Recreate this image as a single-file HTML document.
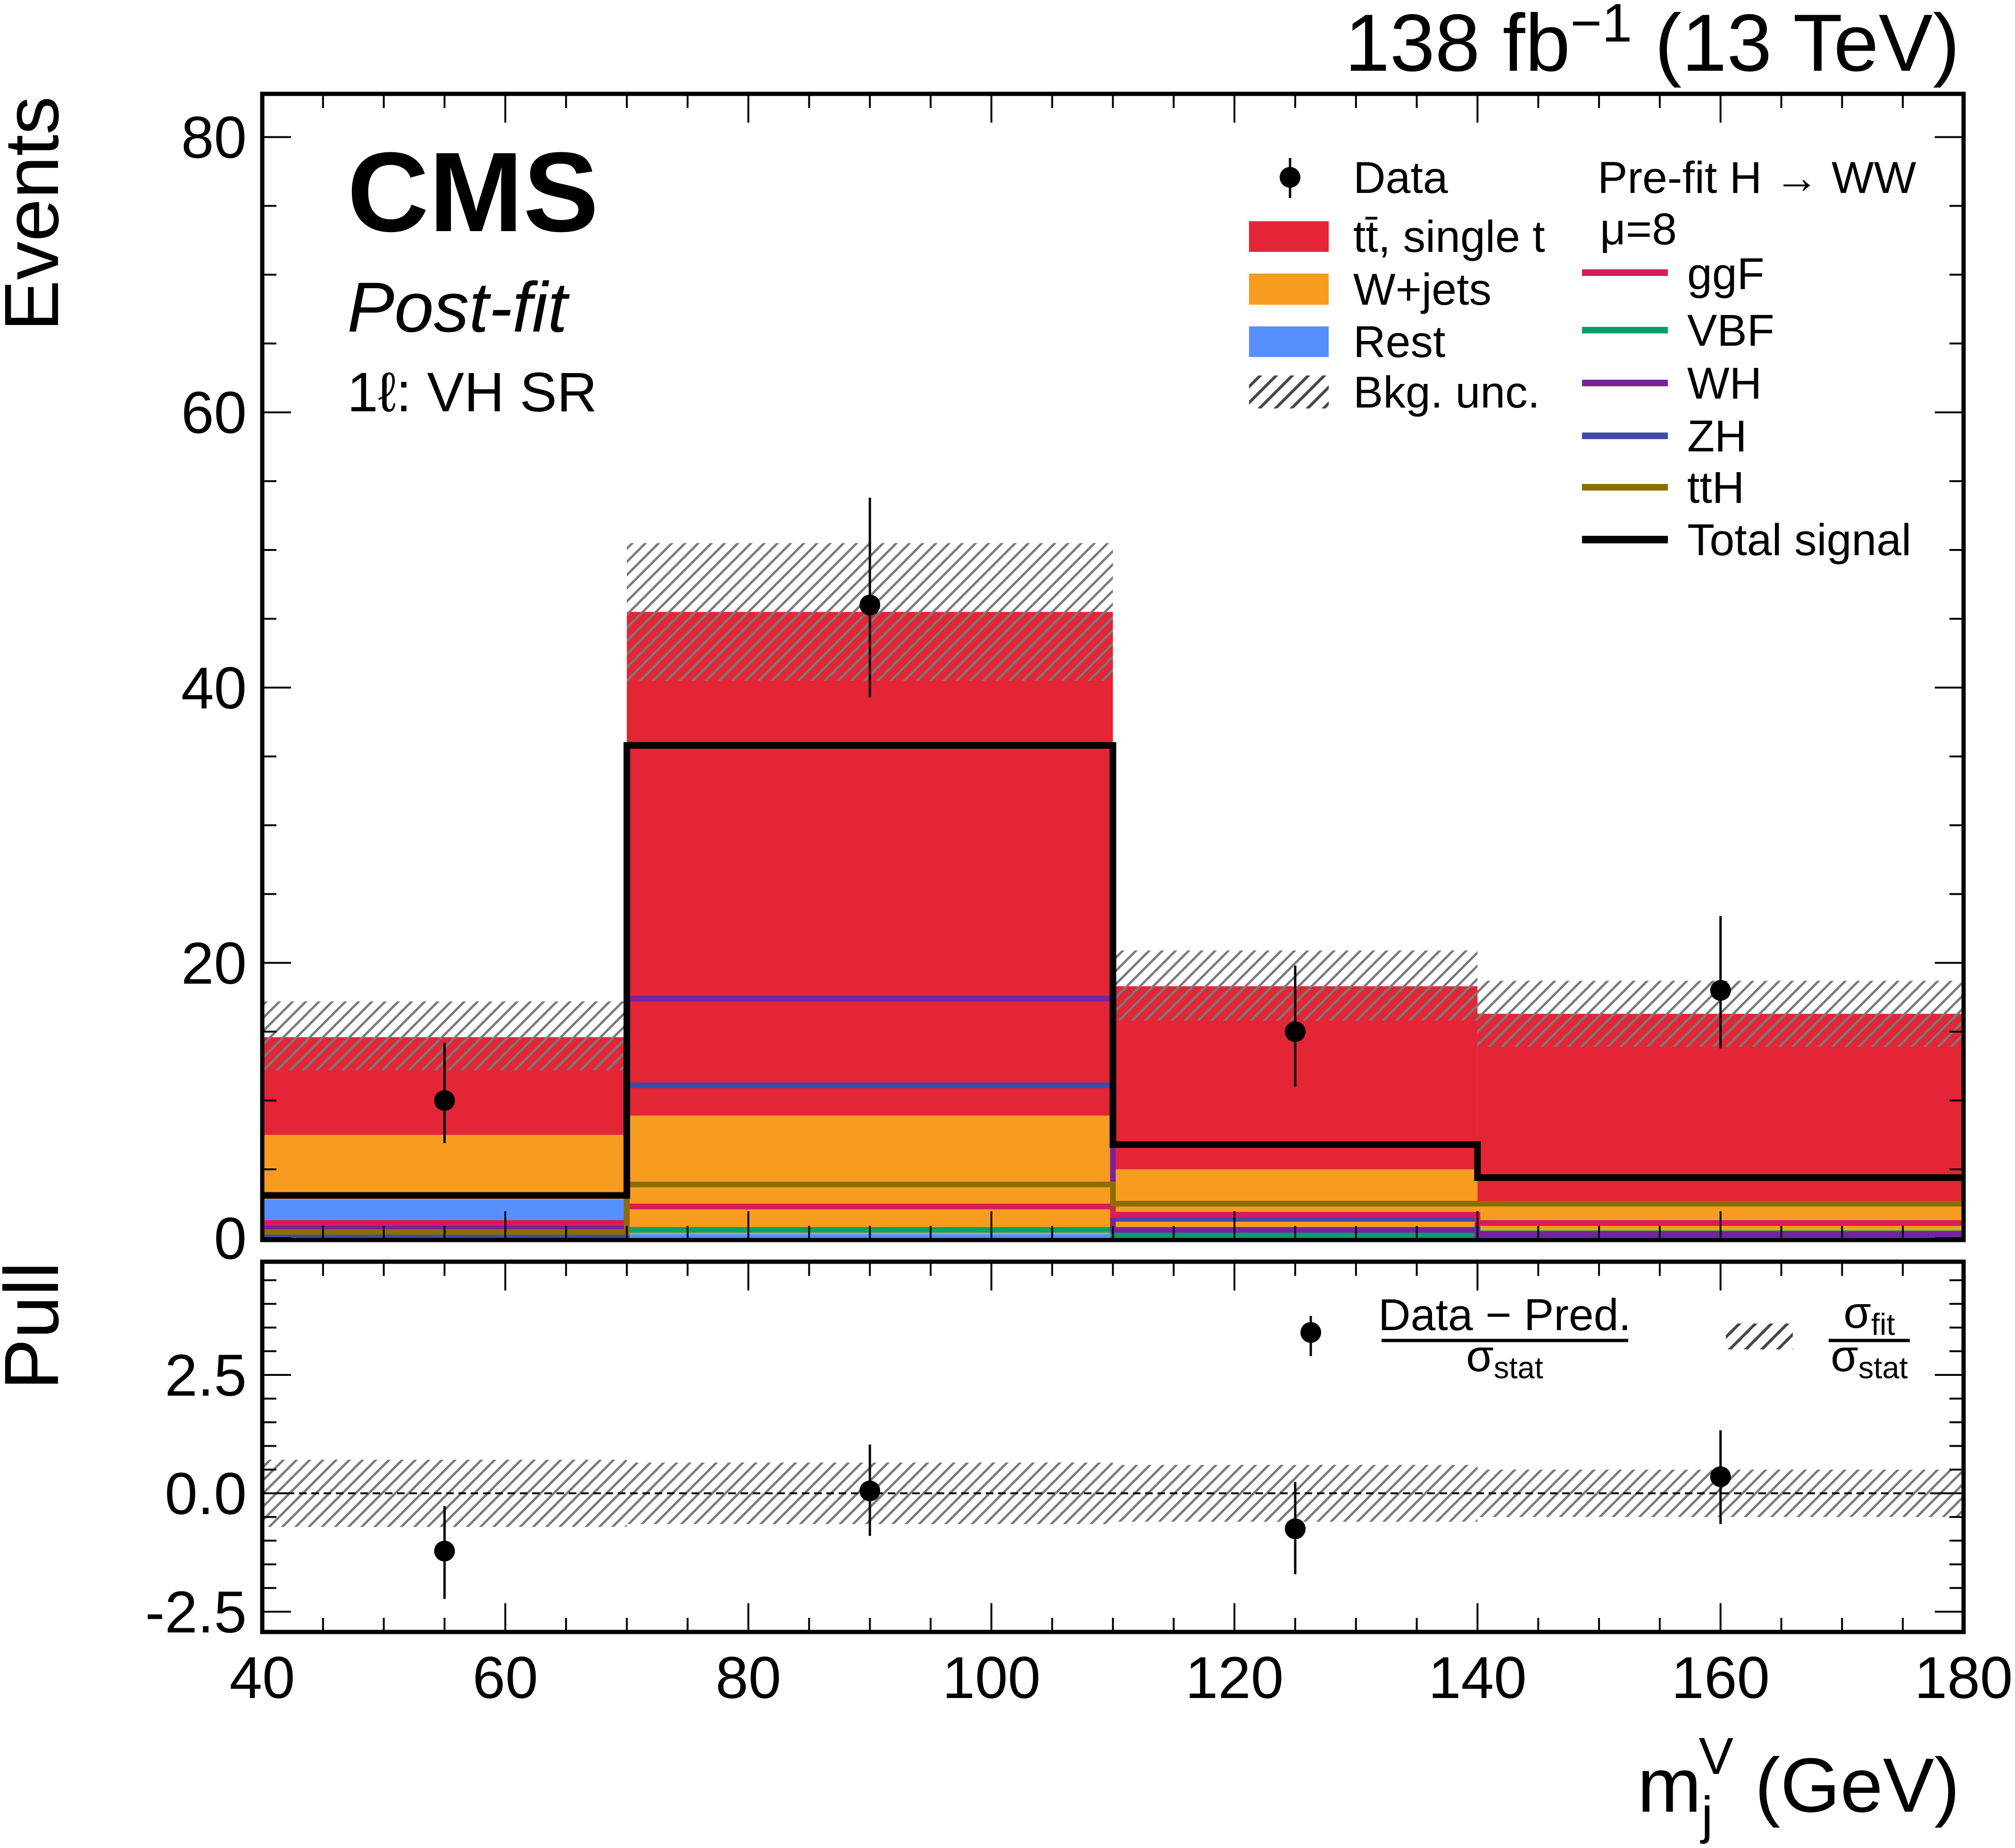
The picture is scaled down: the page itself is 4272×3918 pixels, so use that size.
<!DOCTYPE html>
<html><head><meta charset="utf-8"><style>
html,body{margin:0;padding:0;background:#fff;}
svg{display:block;font-family:"Liberation Sans",sans-serif;}
</style></head><body>
<svg id="chart" xmlns="http://www.w3.org/2000/svg" width="4272" height="3918" viewBox="0 0 4272 3918">
<defs>
<pattern id="hatch" patternUnits="userSpaceOnUse" width="28" height="28">
<path d="M-7,7 L7,-7 M0,28 L28,0 M21,35 L35,21" stroke="#7a7a7a" stroke-width="5"/>
</pattern>
<pattern id="hatchLeg" patternUnits="userSpaceOnUse" width="34" height="34">
<path d="M-8,8 L8,-8 M0,34 L34,0 M26,42 L42,26" stroke="#444" stroke-width="6"/>
</pattern>
</defs>
<g id="main-marks"></g>
<g id="pull-marks"></g>
<g id="axes"></g>

<text x="4155" y="150" font-size="172" text-anchor="end">138 fb<tspan dy="-62" font-size="115">−1</tspan><tspan dy="62"> (13 TeV)</tspan></text>
<text x="736" y="490" font-size="240" font-weight="bold">CMS</text>
<text x="736" y="703" font-size="150" font-style="italic">Post-fit</text>
<text x="736" y="872" font-size="118">1ℓ: VH SR</text>
<text transform="translate(123,204) rotate(-90)" font-size="163" text-anchor="end">Events</text>
<text transform="translate(123,2675) rotate(-90)" font-size="163" text-anchor="end">Pull</text>
<text x="4155" y="3841" font-size="163" text-anchor="end">m<tspan dy="45" font-size="110">j</tspan><tspan dy="-125" dx="-30" font-size="110">V</tspan><tspan dy="80"> (GeV)</tspan></text>

<g font-size="95">
<g>
<line x1="2735" y1="335" x2="2735" y2="420" stroke="#000" stroke-width="5"/><circle cx="2735" cy="376" r="22"/>
<text x="2869" y="409">Data</text></g>
<g><rect x="2648" y="469" width="169" height="65" fill="#e42536"/><text x="2869" y="534">tt̄, single t</text></g>
<g><rect x="2648" y="580" width="169" height="66" fill="#f89c20"/><text x="2869" y="646">W+jets</text></g>
<g><rect x="2648" y="692" width="169" height="65" fill="#5790fc"/><text x="2869" y="757">Rest</text></g>
<g><rect x="2648" y="796" width="169" height="70" fill="url(#hatchLeg)"/><text x="2869" y="864">Bkg. unc.</text></g>
<text x="3387" y="409">Pre-fit H → WW</text>
<text x="3392" y="518">μ=8</text>
<g><line x1="3354" x2="3536" y1="578" y2="578" stroke="#d91a5b" stroke-width="14"/><text x="3577" y="613">ggF</text></g>
<g><line x1="3354" x2="3536" y1="700" y2="700" stroke="#03a06f" stroke-width="14"/><text x="3577" y="733">VBF</text></g>
<g><line x1="3354" x2="3536" y1="812" y2="812" stroke="#7a21a0" stroke-width="14"/><text x="3577" y="845">WH</text></g>
<g><line x1="3354" x2="3536" y1="924" y2="924" stroke="#3f4ba8" stroke-width="14"/><text x="3577" y="957">ZH</text></g>
<g><line x1="3354" x2="3536" y1="1033" y2="1033" stroke="#8c6d00" stroke-width="14"/><text x="3577" y="1066">ttH</text></g>
<g><line x1="3354" x2="3536" y1="1144" y2="1144" stroke="#000" stroke-width="16"/><text x="3577" y="1177">Total signal</text></g>
</g>

<g font-size="95">
<g>
<line x1="2779" y1="2790" x2="2779" y2="2875" stroke="#000" stroke-width="5"/><circle cx="2779" cy="2825" r="22"/>
<text x="3190" y="2820" text-anchor="middle">Data − Pred.</text>
<line x1="2929" x2="3452" y1="2842" y2="2842" stroke="#000" stroke-width="7"/>
<text x="3190" y="2907" text-anchor="middle">σ<tspan font-size="65" dy="15">stat</tspan></text></g>
<g>
<rect x="3659" y="2806" width="142" height="55" fill="url(#hatchLeg)"/>
<text x="3963" y="2815" text-anchor="middle">σ<tspan font-size="65" dy="15">fit</tspan></text>
<line x1="3877" x2="4049" y1="2842" y2="2842" stroke="#000" stroke-width="7"/>
<text x="3963" y="2907" text-anchor="middle">σ<tspan font-size="65" dy="15">stat</tspan></text></g>
</g>
</svg>
<script>
// ---- data ----
const binEdges = [40, 70, 110, 140, 180];
const restVals = [2.8, 0.3, 0.0, 0.0];
const wjetsVals = [4.7, 8.6, 5.0, 2.7];
const ttbarVals = [7.1, 36.6, 13.3, 13.6];
const uncLow = [12.2, 40.5, 15.8, 13.9];
const uncHigh = [17.2, 50.5, 20.9, 18.7];
const ggfVals = [1.1, 2.3, 1.7, 1.1];
const vbfVals = [0.2, 0.6, 0.2, 0.35];
const whVals = [0.85, 17.4, 0.6, 0.3];
const zhVals = [0.1, 11.1, 1.4, 0.2];
const tthVals = [0.45, 3.9, 2.5, 2.5];
const totalSigVals = [3.1, 35.8, 6.8, 4.4];
const dataX = [55, 90, 125, 160];
const dataY = [10, 46, 15, 18];
const dataLo = [6.9, 39.3, 11.0, 13.8];
const dataHi = [14.2, 53.8, 19.8, 23.4];
const pullY = [-1.22, 0.05, -0.75, 0.35];
const pullLo = [-2.23, -0.9, -1.71, -0.65];
const pullHi = [-0.27, 1.03, 0.24, 1.33];
const pullBand = [0.71, 0.65, 0.6, 0.5];
const mainYTicks = [0, 20, 40, 60, 80];
const pullYTicks = [-2.5, 0, 2.5];
const pullYTickLabels = ["-2.5", "0.0", "2.5"];
const xTicks = [40, 60, 80, 100, 120, 140, 160, 180];

// ---- axes ----
const L = 556, R = 4163, MT = 199, MB = 2629, PT = 2675, PB = 3460;
const X = v => L + (v - 40) * (R - L) / 140;
const Y = v => 2625 - v * 29.18;
const P = v => 3166 - v * 100.4;
const NS = "http://www.w3.org/2000/svg";
function mk(tag, attrs, parent) {
  const e = document.createElementNS(NS, tag);
  for (const k in attrs) e.setAttribute(k, attrs[k]);
  parent.appendChild(e);
  return e;
}
const main = document.getElementById('main-marks');
const pull = document.getElementById('pull-marks');
const axes = document.getElementById('axes');

for (let i = 0; i < 4; i++) {
  const x0 = X(binEdges[i]), x1 = X(binEdges[i + 1]);
  let b = 0;
  const comps = [[restVals, '#5790fc', 'rest'], [wjetsVals, '#f89c20', 'wjets'], [ttbarVals, '#e42536', 'ttbar']];
  for (const [arr, col, nm] of comps) {
    const v = arr[i];
    if (v > 0) {
      const r = mk('rect', {x: x0, y: Y(b + v), width: x1 - x0, height: Y(b) - Y(b + v), fill: col}, main);
      
      
    }
    b += v;
  }
  const u = mk('rect', {x: x0, y: Y(uncHigh[i]), width: x1 - x0, height: Y(uncLow[i]) - Y(uncHigh[i]), fill: 'url(#hatch)'}, main);
  
  
}
function stepPath(arr) {
  let d = '';
  for (let i = 0; i < arr.length; i++) {
    d += (i === 0 ? 'M' : 'L') + X(binEdges[i]) + ',' + Y(arr[i]) + ' L' + X(binEdges[i + 1]) + ',' + Y(arr[i]);
  }
  return d;
}
const sigs = [[vbfVals, '#03a06f', 'vbf', 12], [zhVals, '#3f4ba8', 'zh', 12], [whVals, '#7a21a0', 'wh', 12], [ggfVals, '#d91a5b', 'ggf', 12], [tthVals, '#8c6d00', 'tth', 12], [totalSigVals, '#000', 'total-signal', 14]];
for (const [arr, col, nm, w] of sigs) {
  const p = mk('path', {d: stepPath(arr), fill: 'none', stroke: col, 'stroke-width': w}, main);
  
  
}
for (let i = 0; i < dataX.length; i++) {
  const g = mk('g', {}, main);
  
  
  mk('line', {x1: X(dataX[i]), x2: X(dataX[i]), y1: Y(dataLo[i]), y2: Y(dataHi[i]), stroke: '#000', 'stroke-width': 5}, g);
  mk('circle', {cx: X(dataX[i]), cy: Y(dataY[i]), r: 22}, g);
}
for (let i = 0; i < 4; i++) {
  const x0 = X(binEdges[i]), x1 = X(binEdges[i + 1]);
  const r = mk('rect', {x: x0, y: P(pullBand[i]), width: x1 - x0, height: P(-pullBand[i]) - P(pullBand[i]), fill: 'url(#hatch)'}, pull);
  
  
}
const zl = mk('line', {x1: L, x2: R, y1: P(0), y2: P(0), stroke: '#000', 'stroke-width': 4, 'stroke-dasharray': '16,10'}, pull);


for (let i = 0; i < dataX.length; i++) {
  const g = mk('g', {}, pull);
  
  
  mk('line', {x1: X(dataX[i]), x2: X(dataX[i]), y1: P(pullLo[i]), y2: P(pullHi[i]), stroke: '#000', 'stroke-width': 5}, g);
  mk('circle', {cx: X(dataX[i]), cy: P(pullY[i]), r: 22}, g);
}
function tickLine(x1, y1, x2, y2) { mk('line', {x1, y1, x2, y2, stroke: '#000', 'stroke-width': 4}, axes); }
for (let v = 40; v <= 180; v += 5) {
  const len = (v % 20 === 0) ? 61 : 30;
  const x = X(v);
  tickLine(x, MB, x, MB - len); tickLine(x, MT, x, MT + len);
  tickLine(x, PB, x, PB - len); tickLine(x, PT, x, PT + len);
}
for (let v = 0; v <= 83; v += 5) {
  const len = (v % 20 === 0) ? 61 : 30;
  tickLine(L, Y(v), L + len, Y(v)); tickLine(R, Y(v), R - len, Y(v));
}
for (let k = -5; k <= 9; k++) {
  const v = k * 0.5;
  const len = (k % 5 === 0) ? 61 : 30;
  if (P(v) > PB || P(v) < PT) continue;
  tickLine(L, P(v), L + len, P(v)); tickLine(R, P(v), R - len, P(v));
}
const f1 = mk('rect', {x: L, y: MT, width: R - L, height: MB - MT, fill: 'none', stroke: '#000', 'stroke-width': 9}, axes);


const f2 = mk('rect', {x: L, y: PT, width: R - L, height: PB - PT, fill: 'none', stroke: '#000', 'stroke-width': 9}, axes);


for (const v of mainYTicks) {
  const t = mk('text', {x: 523, y: Y(v) + 44, 'font-size': 125, 'text-anchor': 'end'}, axes);
  
  
  t.textContent = v;
}
for (let i = 0; i < pullYTicks.length; i++) {
  const t = mk('text', {x: 523, y: P(pullYTicks[i]) + 44, 'font-size': 125, 'text-anchor': 'end'}, axes);
  
  
  t.textContent = pullYTickLabels[i];
}
for (const v of xTicks) {
  const t = mk('text', {x: X(v), y: 3600, 'font-size': 125, 'text-anchor': 'middle'}, axes);
  
  
  t.textContent = v;
}
</script>
</body></html>
